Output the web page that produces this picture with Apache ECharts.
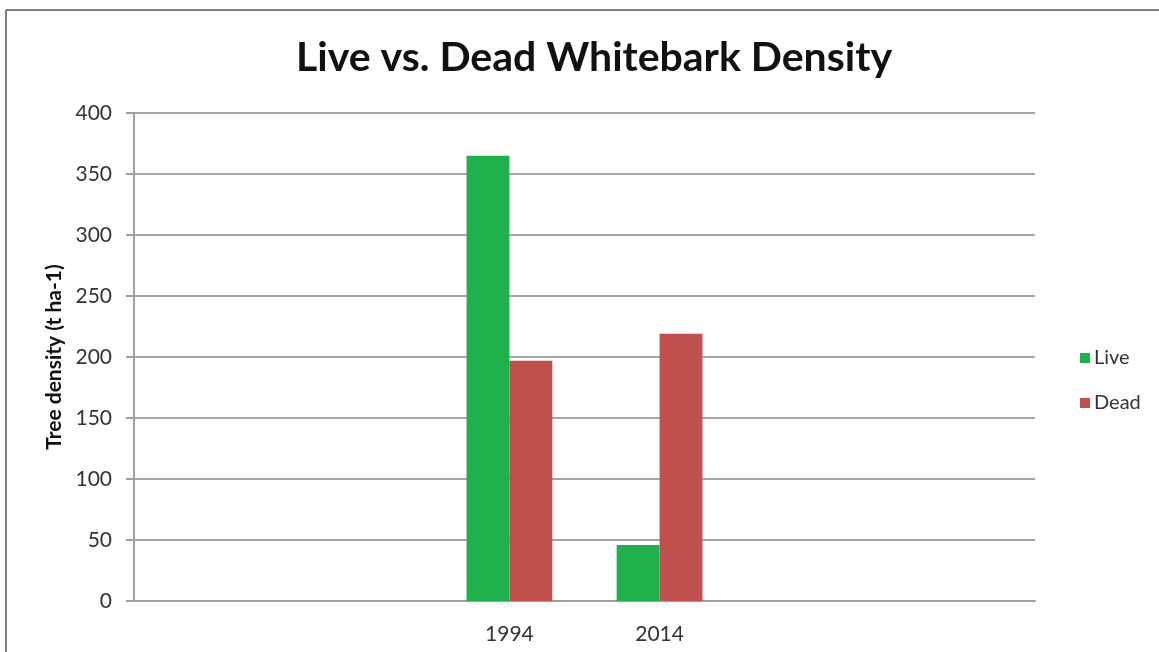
<!DOCTYPE html>
<html>
<head>
<meta charset="utf-8">
<script src="https://cdn.jsdelivr.net/npm/echarts@6/dist/echarts.min.js"></script>
<style>
html,body{margin:0;padding:0;background:#fff;}
#chart{width:1159px;height:652px;}
</style>
</head>
<body>
<div id="chart"></div>
<script>
const categories = ['', ' ', '1994', '2014', '  ', '   '];
const liveValues = [null, null, 365, 46, null, null];
const deadValues = [null, null, 197, 219, null, null];
const seriesNames = ['Live', 'Dead'];
const yTicks = { min: 0, max: 400, interval: 50 };

const FONT = 'Lato, "Open Sans", sans-serif';
const chart = echarts.init(document.getElementById('chart'), null, { renderer: 'canvas' });
chart.setOption({
  backgroundColor: '#ffffff',
  animation: false,
  title: {
    text: 'Live vs. Dead Whitebark Density',
    left: 589, top: 32, textAlign: 'center',
    textStyle: { fontFamily: FONT, fontWeight: 'bold', fontSize: 41, color: '#111111' }
  },
  graphic: [
    { type: 'line', shape: { x1: 6, y1: 10, x2: 1159, y2: 10 }, style: { stroke: '#555', lineWidth: 1.5 } },
    { type: 'line', shape: { x1: 6, y1: 10, x2: 6, y2: 652 }, style: { stroke: '#555', lineWidth: 1.5 } }
  ],
  legend: {
    orient: 'vertical', left: 1075, top: 342,
    itemWidth: 10, itemHeight: 10, itemGap: 23,
    icon: 'rect',
    textStyle: { fontFamily: FONT, fontSize: 20, color: '#333333', lineHeight: 22, padding: [0, 0, 0, -1] },
    data: seriesNames
  },
  grid: { left: 134, right: 124, top: 113, bottom: 51 },
  xAxis: {
    type: 'category', data: categories,
    axisLine: { lineStyle: { color: '#a0a0a0', width: 2 } },
    axisTick: { show: false },
    axisLabel: { interval: 0, margin: 23, fontFamily: FONT, fontSize: 21, color: '#333333' }
  },
  yAxis: {
    type: 'value', min: yTicks.min, max: yTicks.max, interval: yTicks.interval,
    name: 'Tree density (t ha-1)', nameLocation: 'middle', nameGap: 68, nameRotate: 90,
    nameTextStyle: { fontFamily: FONT, fontWeight: 'bold', fontSize: 21, color: '#111' },
    axisLine: { show: true, lineStyle: { color: '#a0a0a0', width: 2 } },
    axisTick: { show: true, length: 8, lineStyle: { color: '#a0a0a0', width: 2 } },
    axisLabel: { margin: 22, fontFamily: FONT, fontSize: 21, color: '#333333' },
    splitLine: { lineStyle: { color: '#a6a6a6', width: 2 } }
  },
  series: [
    { name: seriesNames[0], type: 'bar', data: liveValues, itemStyle: { color: '#1eb14c' },
      barGap: '0%', barCategoryGap: '42.86%' },
    { name: seriesNames[1], type: 'bar', data: deadValues, itemStyle: { color: '#c0504d' },
      barGap: '0%', barCategoryGap: '42.86%' }
  ]
});
</script>
</body>
</html>
